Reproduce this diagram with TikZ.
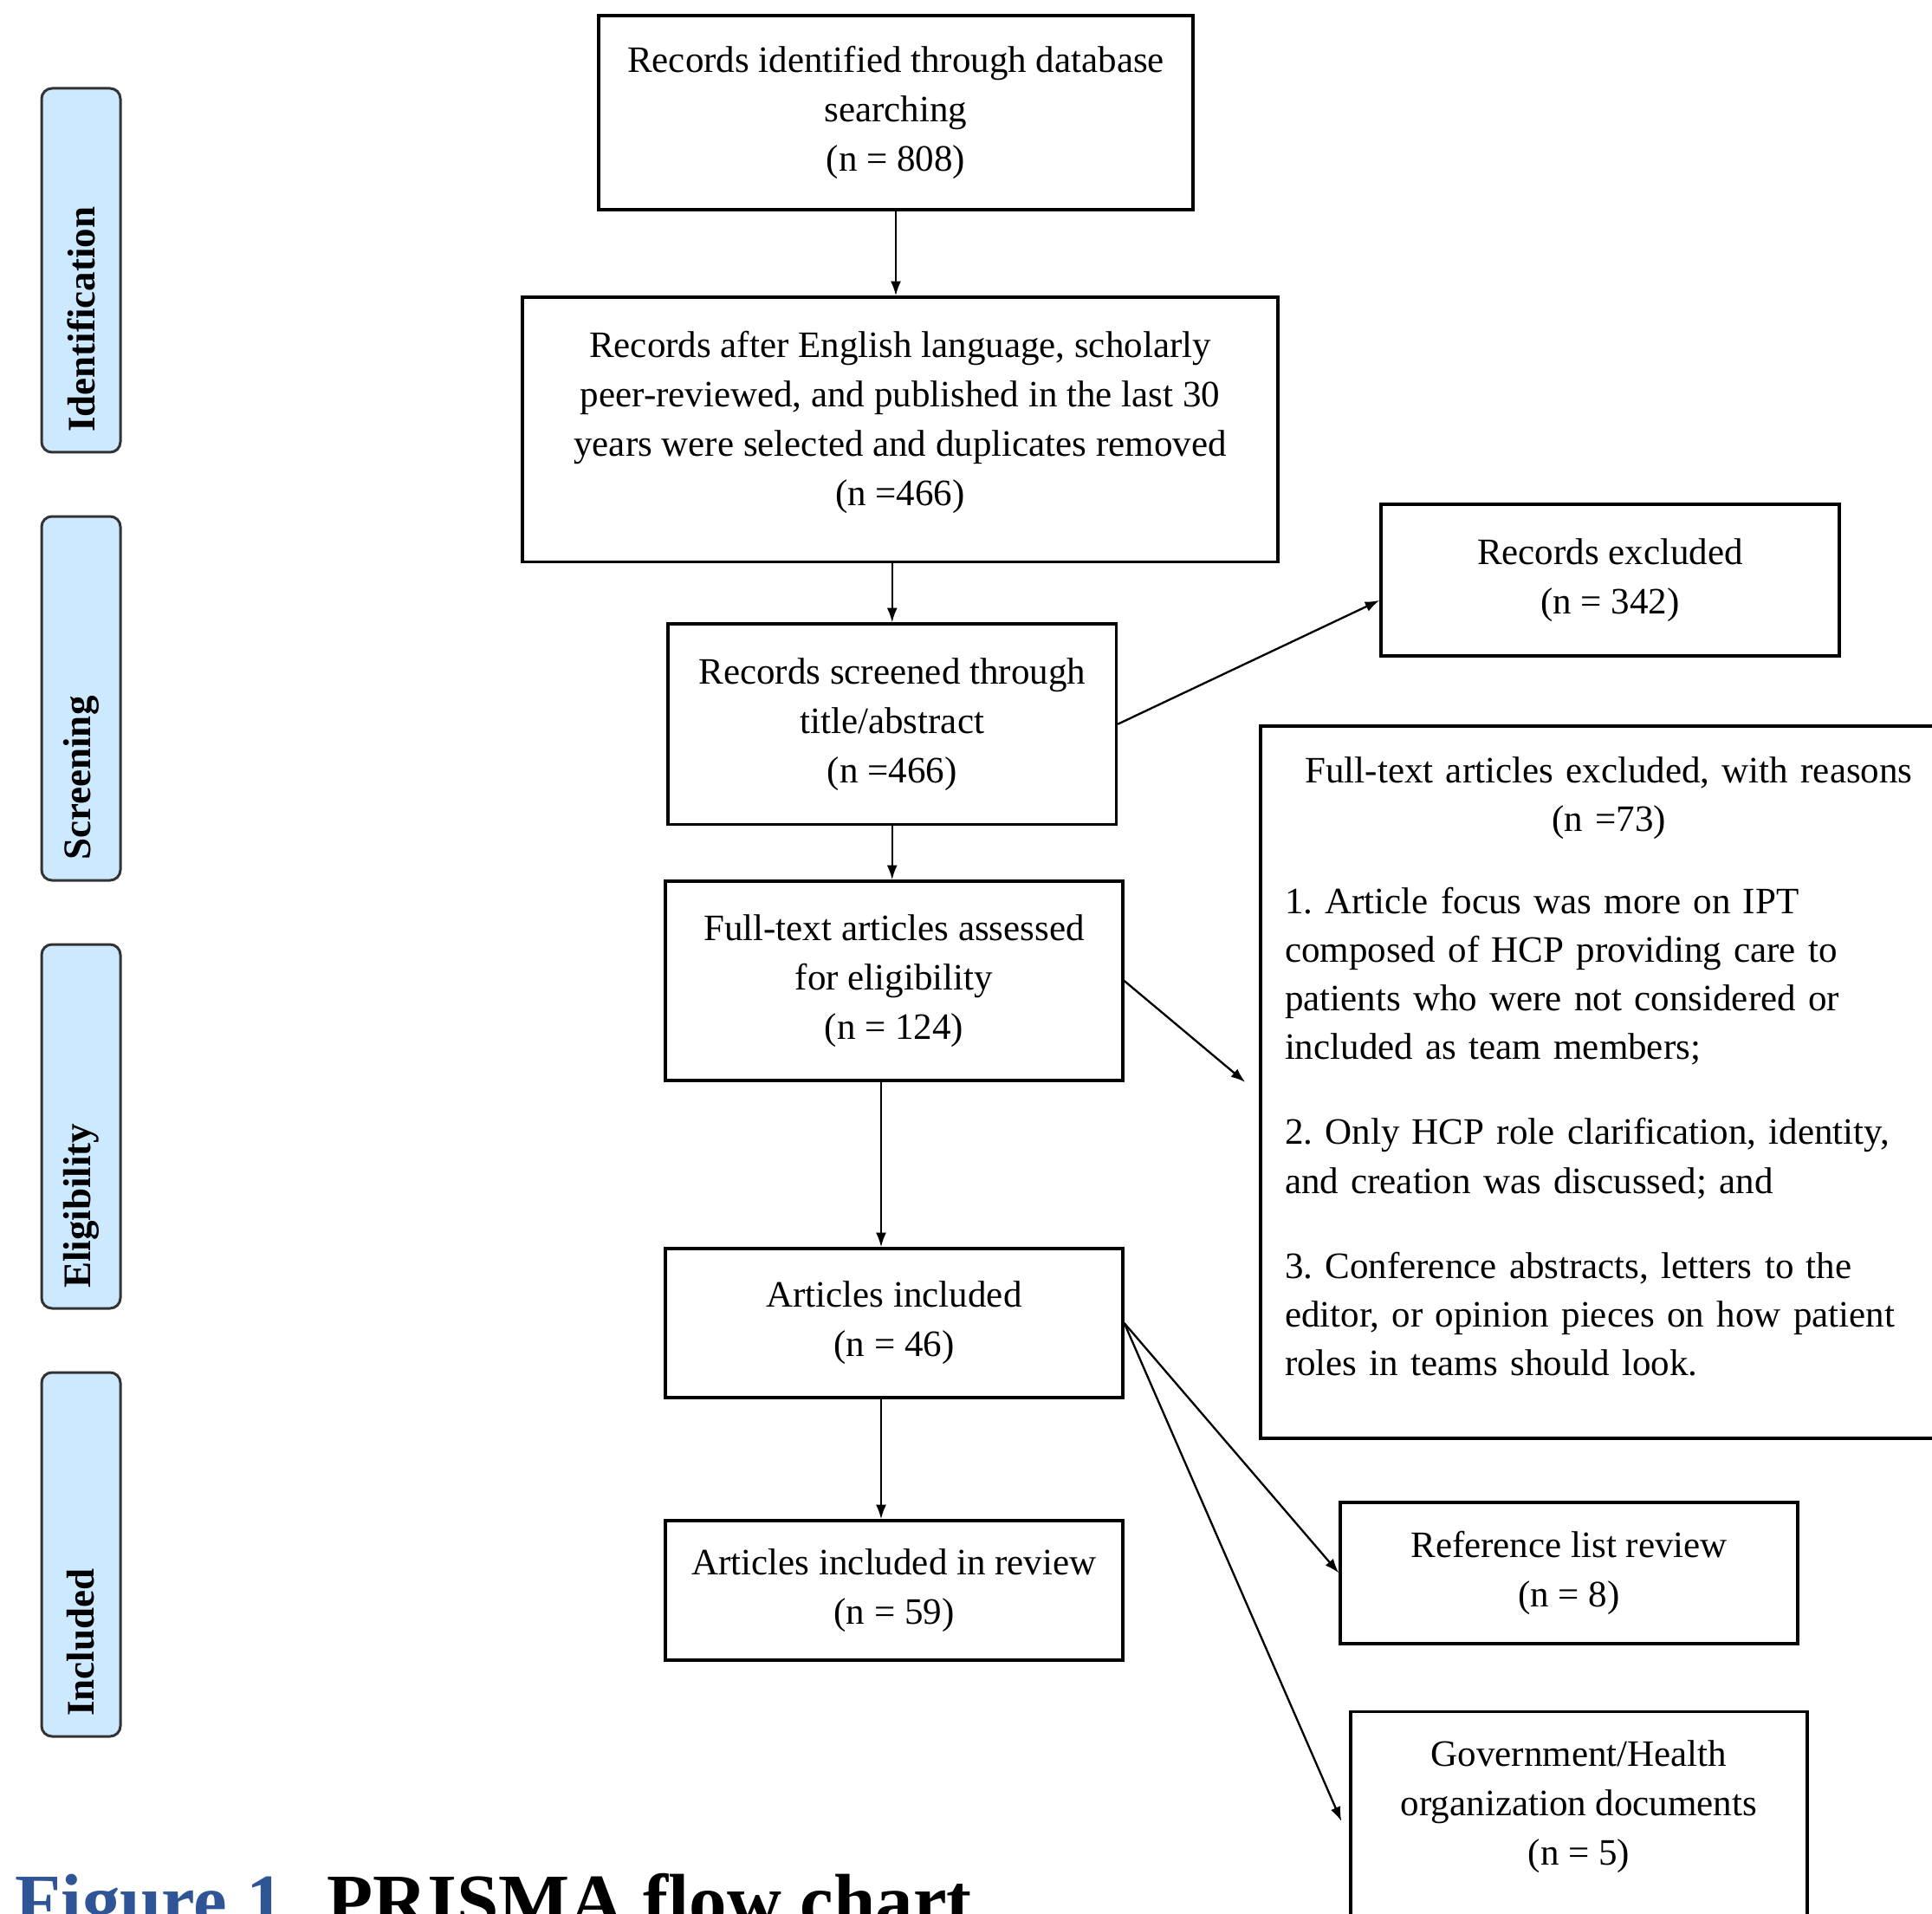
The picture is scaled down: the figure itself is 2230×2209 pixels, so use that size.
\documentclass[tikz,border=0pt]{standalone}
\usepackage{fontspec}
\setmainfont{Liberation Serif}
\usetikzlibrary{arrows.meta}
\definecolor{sideblue}{RGB}{205,233,255}
\definecolor{capblue}{RGB}{47,85,151}
\frenchspacing
\begin{document}
\begin{tikzpicture}[x=0.3pt,y=-0.3pt,
  flowbox/.style={draw=black, line width=1pt, align=center, inner sep=0pt,
    font=\fontsize{12.9pt}{17.1pt}\selectfont},
  boxtext/.style={align=center, inner sep=0pt, font=\fontsize{12.9pt}{17.1pt}\selectfont},
  sidebox/.style={draw=black!80, line width=0.9pt, fill=sideblue, rounded corners=3.6pt,
    rotate=90, minimum width=126pt, minimum height=27.3pt, text width=112pt,
    inner xsep=7pt, inner ysep=0pt, align=left,
    font=\fontsize{13.5pt}{16pt}\selectfont\bfseries},
  capfont/.style={inner sep=0pt, anchor=base west, font=\fontsize{26.1pt}{30pt}\selectfont\bfseries},
  flow/.style={line width=0.7pt, -{Latex[length=5pt,width=3.6pt]}}
]
\useasboundingbox (0,0) rectangle (2230,2209);
\fill[white] (0,0) rectangle (2230,2209);

% phase labels
\node[sidebox] (sid)   at (93.5,312)  {Identification};
\node[sidebox] (sscr)  at (93.5,806)  {Screening};
\node[sidebox] (selig) at (93.5,1300) {Eligibility};
\node[sidebox] (sinc)  at (93.5,1794) {Included};

% main column
\node[flowbox, minimum width=205.8pt, minimum height=67.2pt] (b1) at (1034,130)
  {Records identified through database\\searching\\(n = 808)};
\node[flowbox, minimum width=261.6pt, minimum height=91.65pt] (b2) at (1039,495.75)
  {Records after English language, scholarly\\peer-reviewed, and published in the last 30\\years were selected and duplicates removed\\(n =466)\rule[-7.5pt]{0pt}{1pt}};
\node[flowbox, minimum width=155.25pt, minimum height=69.45pt] (b3) at (1029.75,835.75)
  {Records screened through\\title/abstract\\(n =466)};
\node[flowbox, minimum width=158.4pt, minimum height=69pt] (b4) at (1032,1132)
  {Full-text articles assessed\\for eligibility\\(n = 124)};
\node[flowbox, minimum width=158.4pt, minimum height=51.6pt] (b5) at (1032,1527)
  {Articles included\\(n = 46)};
\node[flowbox, minimum width=158.4pt, minimum height=48.3pt] (b6) at (1032,1835.5)
  {Articles included in review\\(n = 59)};

% right column
\node[flowbox, minimum width=158.7pt, minimum height=52.5pt] (excl) at (1858.5,669.5)
  {Records excluded\\(n = 342)};
\node[flowbox, minimum width=241.2pt, minimum height=246.6pt] (ftex) at (1857,1249) {};
\node[inner sep=0pt, anchor=base, text width=224.4pt,
  font=\fontsize{12.9pt}{16.9pt}\selectfont] (fttxt) at (1857,903)
  {\centering Full-text articles excluded, with reasons\\(n =73)\par
   \vspace{11.5pt}\raggedright
   1. Article focus was more on IPT\\composed of HCP providing care to\\patients who were not considered or\\included as team members;\par
   \vspace{12.5pt}
   2. Only HCP role clarification, identity,\\and creation was discussed; and\par
   \vspace{12.5pt}
   3. Conference abstracts, letters to the\\editor, or opinion pieces on how patient\\roles in teams should look.\par};
\node[flowbox, minimum width=158.4pt, minimum height=48.9pt] (ref) at (1811,1815.5)
  {Reference list review\\(n = 8)};
\node[flowbox, minimum width=158.1pt, minimum height=100pt, anchor=north] (gov) at (1822.5,1974) {};
\node[boxtext] (govtxt) at (1822.5,2085)
  {Government/Health\\organization documents\\(n = 5)};

% connectors
\draw[flow] (b1.south) -- (b1.south |- b2.north);
\draw[flow] (b3.north |- b2.south) -- (b3.north);
\draw[flow] (b3.south) -- (b3.south |- b4.north);
\draw[flow] ([xshift=-4.5pt]b4.south) -- ([xshift=-4.5pt]b5.north);
\draw[flow] ([xshift=-4.5pt]b5.south) -- ([xshift=-4.5pt]b6.north);
\draw[flow] (b3.east) -- ([yshift=-7pt]excl.west);
\draw[flow] (b4.east) -- ([xshift=-4.8pt]ftex.west);
\draw[flow] (b5.east) -- (ref.west);
\draw[flow] (b5.east) -- ([xshift=-2.7pt,yshift=-38.4pt]gov.north west);

% caption
\node[capfont, text=capblue] (capnum) at (17,2223) {Figure 1};
\node[capfont] (captitle) at (377,2223) {PRISMA flow chart};
\end{tikzpicture}
\end{document}
